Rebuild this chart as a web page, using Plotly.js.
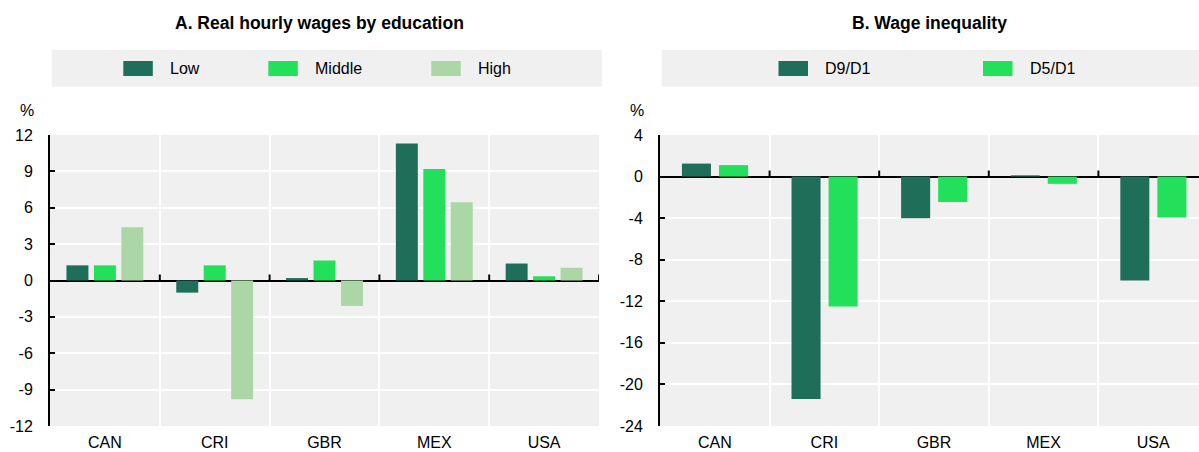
<!DOCTYPE html>
<html>
<head>
<meta charset="utf-8">
<script src="https://cdn.plot.ly/plotly-3.0.1.min.js"></script>
<style>
  html, body { margin: 0; padding: 0; background: #ffffff; overflow: hidden; }
  #chart { width: 1199px; height: 452px; }
</style>
</head>
<body>
<div id="chart"></div>
<script>
// ---------------- Data ----------------
const categories = ['CAN', 'CRI', 'GBR', 'MEX', 'USA'];

// Panel A: Real hourly wages by education (%)
const seriesA = ['Low', 'Middle', 'High'];
const lowVals    = [1.25, -1.0, 0.2, 11.3, 1.4];
const middleVals = [1.25, 1.25, 1.65, 9.2, 0.35];
const highVals   = [4.4, -9.8, -2.1, 6.45, 1.05];

// Panel B: Wage inequality (%)
const seriesB = ['D9/D1', 'D5/D1'];
const d9d1Vals = [1.25, -21.4, -4.0, 0.12, -10.0];
const d5d1Vals = [1.1, -12.5, -2.45, -0.7, -3.95];

// Tick labels
const yTicksA = [-12, -9, -6, -3, 0, 3, 6, 9, 12];
const yTicksB = [-24, -20, -16, -12, -8, -4, 0, 4];

const titleA = 'A. Real hourly wages by education';
const titleB = 'B. Wage inequality';
const unitLabel = '%';

// ---------------- Style ----------------
const W = 1199, H = 452;
const FONT = 'Liberation Sans, Arial, sans-serif';
const FS = 16;
const colA = ['#1f6e5a', '#22e05a', '#aad7a5'];
const colB = ['#1f6e5a', '#22e05a'];
const BG = '#f0f0f0';

const px = v => v / W;
const py = v => 1 - v / H;

const plotTop = 135, plotBottom = 426;
const domY = [py(plotBottom), py(plotTop)];
const domXA = [px(50), px(599)];
const domXB = [px(660), 1];

const valsA = [lowVals, middleVals, highVals];
const valsB = [d9d1Vals, d5d1Vals];
const offsA = [-0.35, -0.1, 0.15];
const offsB = [-0.3, 0.038];

const traces = [];
valsA.forEach((v, i) => {
  traces.push({
    type: 'bar', name: seriesA[i], x: categories, y: v,
    xaxis: 'x', yaxis: 'y', width: 0.2, offset: offsA[i],
    marker: { color: colA[i] }, showlegend: false, hoverinfo: 'x+y+name'
  });
});
valsB.forEach((v, i) => {
  traces.push({
    type: 'bar', name: seriesB[i], x: categories, y: v,
    xaxis: 'x2', yaxis: 'y2', width: 0.265, offset: offsB[i],
    marker: { color: colB[i] }, showlegend: false, hoverinfo: 'x+y+name'
  });
});

const rangeA = [-12, 12];
const rangeB = [-24, 4];
const xRangeA = [-0.5, categories.length - 0.5];
const xRangeB = [-0.5, 4.418];

function xAxis(domain, range, anchor) {
  return {
    domain: domain, anchor: anchor, type: 'category', range: range,
    showgrid: true, gridcolor: '#ffffff', gridwidth: 2, tickson: 'boundaries',
    ticks: '', showline: false, zeroline: false, fixedrange: true,
    ticklabelstandoff: 5,
    tickfont: { family: FONT, size: FS, color: '#000' }
  };
}
function yAxis(domain, range, ticks, anchor) {
  return {
    domain: domain, anchor: anchor, range: range,
    tickvals: ticks, ticktext: ticks.map(t => String(t)),
    showgrid: true, gridcolor: '#ffffff', gridwidth: 2,
    zeroline: true, zerolinecolor: '#000', zerolinewidth: 2,
    showline: true, linecolor: '#000', linewidth: 2,
    ticks: 'inside', ticklen: 5, tickwidth: 2, tickcolor: '#000',
    ticklabelstandoff: 12, fixedrange: true, layer: 'above traces',
    tickfont: { family: FONT, size: FS, color: '#000' }
  };
}

const shapes = [];
const annotations = [];

// Zero-line boundary ticks
function zeroTicks(xref, yref, range, tickPx) {
  const unitsPerPx = (range[1] - range[0]) / (plotBottom - plotTop);
  for (let i = 0; i < categories.length; i++) {
    shapes.push({
      type: 'line', xref: xref, yref: yref, x0: i + 0.5, x1: i + 0.5,
      y0: 0, y1: tickPx * unitsPerPx, line: { color: '#000', width: 2 }, layer: 'above'
    });
  }
}
zeroTicks('x', 'y', rangeA, 6);
zeroTicks('x2', 'y2', rangeB, 6);

// Legend bands
shapes.push({ type: 'rect', xref: 'paper', yref: 'paper', x0: px(51.7), x1: px(601.7), y0: py(86.7), y1: py(50), fillcolor: BG, line: { width: 0 }, layer: 'below' });
shapes.push({ type: 'rect', xref: 'paper', yref: 'paper', x0: px(661.7), x1: 1, y0: py(86.7), y1: py(50), fillcolor: BG, line: { width: 0 }, layer: 'below' });

// Legend entries (swatch + label)
function legendEntry(name, color, swX) {
  shapes.push({ type: 'rect', xref: 'paper', yref: 'paper', x0: px(swX), x1: px(swX + 29.5), y0: py(76), y1: py(61), fillcolor: color, line: { width: 0 } });
  annotations.push({ xref: 'paper', yref: 'paper', x: px(swX + 44.5), y: py(68.5), xanchor: 'left', yanchor: 'middle', text: name, showarrow: false, font: { family: FONT, size: FS, color: '#000' } });
}
const legXA = [123.3, 268.3, 431.3];
const legXB = [778.5, 983];
seriesA.forEach((n, i) => legendEntry(n, colA[i], legXA[i]));
seriesB.forEach((n, i) => legendEntry(n, colB[i], legXB[i]));

// Titles
annotations.push({ xref: 'paper', yref: 'paper', x: px(319), y: py(23), xanchor: 'center', yanchor: 'middle', text: '<b>' + titleA + '</b>', showarrow: false, font: { family: FONT, size: 17.5, color: '#000' } });
annotations.push({ xref: 'paper', yref: 'paper', x: px(929.5), y: py(23), xanchor: 'center', yanchor: 'middle', text: '<b>' + titleB + '</b>', showarrow: false, font: { family: FONT, size: 17.5, color: '#000' } });

// Unit labels
annotations.push({ xref: 'paper', yref: 'paper', x: px(27), y: py(110), xanchor: 'center', yanchor: 'middle', text: unitLabel, showarrow: false, font: { family: FONT, size: FS, color: '#000' } });
annotations.push({ xref: 'paper', yref: 'paper', x: px(637), y: py(110), xanchor: 'center', yanchor: 'middle', text: unitLabel, showarrow: false, font: { family: FONT, size: FS, color: '#000' } });

const layout = {
  width: W, height: H,
  margin: { l: 0, r: 0, t: 0, b: 0, pad: 0 },
  paper_bgcolor: '#ffffff', plot_bgcolor: BG,
  barmode: 'overlay', showlegend: false,
  font: { family: FONT, size: FS, color: '#000' },
  xaxis: xAxis(domXA, xRangeA, 'y'),
  yaxis: yAxis(domY, rangeA, yTicksA, 'x'),
  xaxis2: xAxis(domXB, xRangeB, 'y2'),
  yaxis2: yAxis(domY, rangeB, yTicksB, 'x2'),
  shapes: shapes,
  annotations: annotations
};

Plotly.newPlot('chart', traces, layout, { displayModeBar: false, staticPlot: true });
</script>
</body>
</html>
